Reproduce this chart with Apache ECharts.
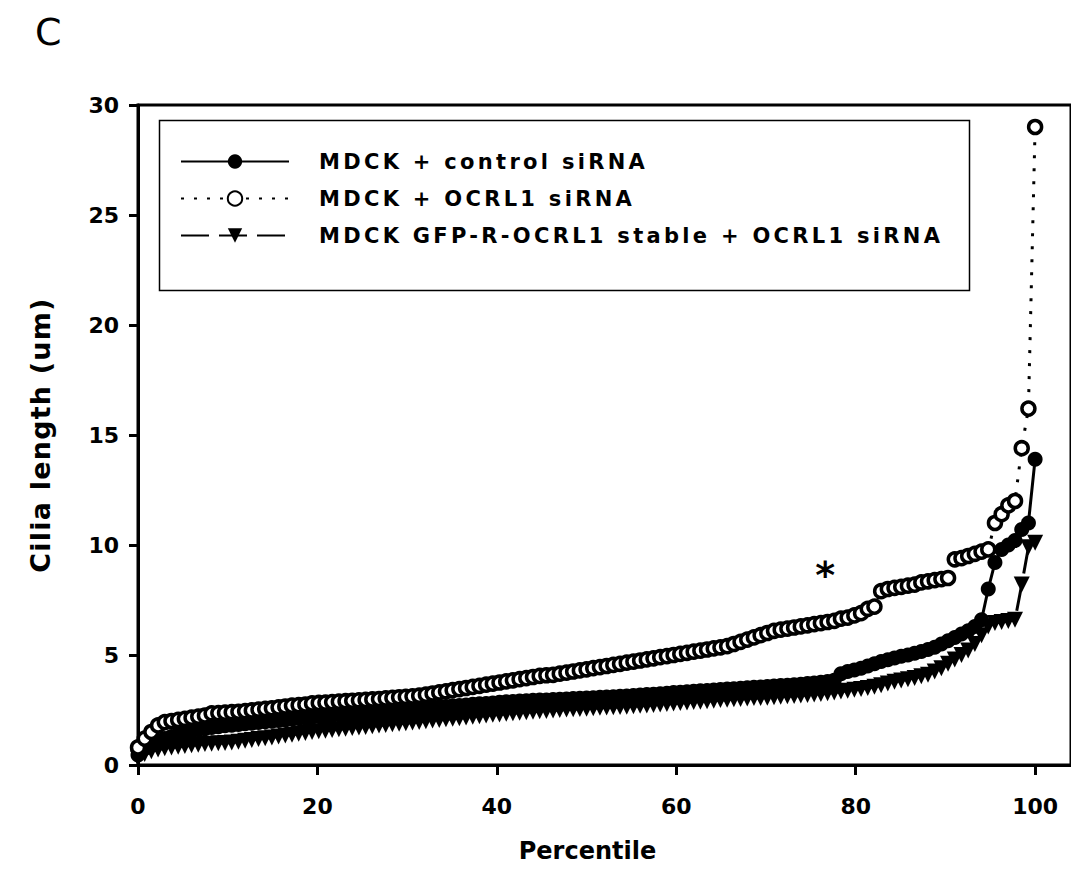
<!DOCTYPE html>
<html>
<head>
<meta charset="utf-8">
<script src="https://cdn.jsdelivr.net/npm/echarts@6/dist/echarts.min.js"></script>
<style>
  html, body { margin: 0; padding: 0; background: #fff; }
  #chart { width: 1071px; height: 895px; }
  /* wide tracking of the legend lettering, as in the original figure */
  #chart svg text[style*="21px"], #chart svg text[font-size="21"], #chart svg text[font-size="21px"] { letter-spacing: 3.3px; }
  #chart svg text[style*="27px"], #chart svg text[font-size="27"], #chart svg text[font-size="27px"] { letter-spacing: 1.2px; }
</style>
</head>
<body>
<div id="chart"></div>
<script>
// Cilia length (um) of every measured cilium, sorted ascending; x = percentile rank
const seriesNames = [
  'MDCK + control siRNA',
  'MDCK + OCRL1 siRNA',
  'MDCK GFP-R-OCRL1 stable + OCRL1 siRNA'
];
const controlValues = [
  0.45, 0.75, 0.95, 1.1, 1.2, 1.3, 1.4, 1.47, 1.55, 1.6,
  1.65, 1.7, 1.74, 1.78, 1.81, 1.84, 1.87, 1.9, 1.93, 1.96,
  1.99, 2.02, 2.05, 2.08, 2.11, 2.14, 2.17, 2.2, 2.22, 2.25,
  2.28, 2.3, 2.33, 2.36, 2.38, 2.4, 2.43, 2.45, 2.48, 2.5,
  2.52, 2.55, 2.57, 2.6, 2.62, 2.64, 2.66, 2.69, 2.71, 2.73,
  2.76, 2.78, 2.8, 2.82, 2.85, 2.87, 2.89, 2.91, 2.92, 2.94,
  2.95, 2.96, 2.98, 2.99, 3.0, 3.02, 3.03, 3.05, 3.06, 3.08,
  3.09, 3.1, 3.12, 3.14, 3.16, 3.18, 3.2, 3.22, 3.24, 3.26,
  3.29, 3.31, 3.33, 3.35, 3.37, 3.39, 3.41, 3.43, 3.45, 3.47,
  3.49, 3.51, 3.53, 3.55, 3.57, 3.59, 3.61, 3.63, 3.65, 3.67,
  3.7, 3.73, 3.76, 3.8, 3.85, 4.15, 4.25, 4.32, 4.4, 4.5,
  4.6, 4.7, 4.78, 4.86, 4.94, 5.0, 5.08, 5.16, 5.25, 5.35,
  5.5, 5.65, 5.8, 5.95, 6.1, 6.3, 6.6, 8.0, 9.2, 9.8,
  10.0, 10.2, 10.7, 11.0, 13.9
];
const ocrlValues = [
  0.8, 1.2, 1.5, 1.8, 1.95, 2.0, 2.05, 2.1, 2.15, 2.2,
  2.25, 2.35, 2.36, 2.38, 2.4, 2.42, 2.45, 2.48, 2.52, 2.55,
  2.58, 2.62, 2.66, 2.7, 2.72, 2.75, 2.8, 2.82, 2.84, 2.86,
  2.88, 2.9, 2.92, 2.94, 2.96, 2.98, 3.0, 3.03, 3.05, 3.08,
  3.1, 3.12, 3.15, 3.2, 3.25, 3.3, 3.35, 3.4, 3.45, 3.5,
  3.55, 3.6, 3.65, 3.7, 3.75, 3.8, 3.85, 3.9, 3.95, 4.0,
  4.05, 4.08, 4.1, 4.15, 4.2, 4.25, 4.3, 4.35, 4.4, 4.45,
  4.5, 4.55, 4.6, 4.65, 4.7, 4.75, 4.8, 4.85, 4.9, 4.95,
  5.0, 5.05, 5.1, 5.15, 5.2, 5.25, 5.3, 5.35, 5.4, 5.5,
  5.6, 5.7, 5.8, 5.9, 6.0, 6.1, 6.15, 6.2, 6.25, 6.3,
  6.35, 6.4, 6.45, 6.5, 6.55, 6.65, 6.7, 6.8, 6.9, 7.1,
  7.2, 7.9, 8.0, 8.05, 8.1, 8.15, 8.2, 8.3, 8.35, 8.4,
  8.45, 8.5, 9.35, 9.4, 9.5, 9.6, 9.7, 9.8, 11.0, 11.4,
  11.8, 12.0, 14.4, 16.2, 29.0
];
const gfpValues = [
  0.3, 0.5, 0.62, 0.7, 0.76, 0.8, 0.83, 0.86, 0.9, 0.92,
  0.95, 0.97, 0.99, 1.0, 1.02, 1.06, 1.1, 1.14, 1.18, 1.22,
  1.25, 1.3, 1.34, 1.38, 1.42, 1.46, 1.5, 1.53, 1.56, 1.59,
  1.62, 1.65, 1.68, 1.7, 1.73, 1.76, 1.79, 1.82, 1.85, 1.88,
  1.9, 1.93, 1.96, 1.99, 2.02, 2.05, 2.08, 2.1, 2.13, 2.16,
  2.19, 2.22, 2.25, 2.28, 2.3, 2.33, 2.35, 2.38, 2.4, 2.42,
  2.44, 2.46, 2.48, 2.5, 2.52, 2.53, 2.55, 2.56, 2.58, 2.6,
  2.61, 2.62, 2.64, 2.65, 2.67, 2.69, 2.71, 2.73, 2.75, 2.77,
  2.8, 2.82, 2.84, 2.86, 2.88, 2.9, 2.92, 2.95, 2.97, 2.99,
  3.0, 3.02, 3.04, 3.05, 3.06, 3.08, 3.1, 3.12, 3.14, 3.16,
  3.18, 3.2, 3.23, 3.26, 3.3, 3.34, 3.38, 3.42, 3.46, 3.5,
  3.56, 3.62, 3.7, 3.78, 3.84, 3.9, 3.96, 4.03, 4.1, 4.25,
  4.4, 4.6, 4.8, 5.0, 5.2, 5.5, 5.9, 6.3, 6.45, 6.5,
  6.55, 6.6, 8.2, 9.9, 10.1
];
const xTicks = { min: 0, max: 104, interval: 20 };
const yTicks = { min: 0, max: 30, interval: 5 };
const panelLabel = 'C';
const xTitle = 'Percentile';
const yTitle = 'Cilia length (um)';
const significance = { text: '*', pct: 76.6, value: 8.65 };

// percentile rank of each sorted value
function toPercentile(values) {
  const n = values.length;
  return values.map((v, i) => [i / (n - 1) * 100, v]);
}

const FONT = 'DejaVu Sans';
const chart = echarts.init(document.getElementById('chart'), null, { renderer: 'svg' });

const option = {
  animation: false,
  backgroundColor: '#ffffff',
  title: {
    text: panelLabel,
    left: 30, top: 8,
    textStyle: { fontFamily: FONT, fontSize: 38, fontWeight: 'normal', color: '#000' }
  },
  grid: {
    left: 138, top: 105, right: 0, bottom: 130,
    show: true, borderColor: '#000', borderWidth: 3, backgroundColor: 'transparent'
  },
  legend: {
    orient: 'vertical',
    left: 180, top: 151, padding: 0,
    itemWidth: 108, itemHeight: 18, itemGap: 16,
    data: seriesNames,
    textStyle: { fontFamily: FONT, fontSize: 21, fontWeight: 'bold', color: '#000', padding: [0, 0, 0, 25] },
    inactiveColor: '#000'
  },
  graphic: [{
    type: 'rect', left: 157, top: 118, z: 0,
    shape: { width: 810, height: 170 },
    style: { fill: 'none', stroke: '#000', lineWidth: 1.5 }
  }],
  xAxis: {
    type: 'value', min: xTicks.min, max: xTicks.max, interval: xTicks.interval,
    name: xTitle, nameLocation: 'middle', nameGap: 74,
    nameTextStyle: { fontFamily: FONT, fontSize: 24, fontWeight: 'bold', color: '#000', padding: [0, 34, 0, 0] },
    axisLine: { show: true, lineStyle: { color: '#000', width: 3 } },
    axisTick: { show: true, inside: false, length: 10, lineStyle: { color: '#000', width: 3 } },
    axisLabel: { fontFamily: FONT, fontSize: 22, fontWeight: 'bold', color: '#000', margin: 30, showMaxLabel: false },
    splitLine: { show: false }
  },
  yAxis: {
    type: 'value', min: yTicks.min, max: yTicks.max, interval: yTicks.interval,
    name: yTitle, nameLocation: 'middle', nameGap: 84, nameRotate: 90,
    nameTextStyle: { fontFamily: FONT, fontSize: 27, fontWeight: 'bold', color: '#000' },
    axisLine: { show: true, lineStyle: { color: '#000', width: 3 } },
    axisTick: { show: true, inside: false, length: 9, lineStyle: { color: '#000', width: 3 } },
    axisLabel: { fontFamily: FONT, fontSize: 22, fontWeight: 'bold', color: '#000', margin: 19 },
    splitLine: { show: false }
  },
  series: [
    {
      name: seriesNames[2], type: 'line', z: 2,
      data: toPercentile(gfpValues),
      symbol: 'triangle', symbolRotate: 180, symbolSize: 16,
      itemStyle: { color: '#000', borderColor: '#000', borderWidth: 0 },
      lineStyle: { color: '#000', width: 3, type: [28, 10] }
    },
    {
      name: seriesNames[0], type: 'line', z: 3,
      data: toPercentile(controlValues),
      symbol: 'circle', symbolSize: 15,
      itemStyle: { color: '#000', borderColor: '#000', borderWidth: 0 },
      lineStyle: { color: '#000', width: 3, type: 'solid' }
    },
    {
      name: seriesNames[1], type: 'line', z: 4,
      data: toPercentile(ocrlValues),
      symbol: 'circle', symbolSize: 13,
      itemStyle: { color: '#fff', borderColor: '#000', borderWidth: 3.5 },
      lineStyle: { color: '#000', width: 3, type: [3, 10] },
      markPoint: {
        silent: true,
        symbol: 'circle', symbolSize: 1,
        itemStyle: { color: 'transparent', borderWidth: 0 },
        label: { show: true, position: 'inside', formatter: significance.text,
                 fontFamily: FONT, fontSize: 38, fontWeight: 'bold', color: '#000' },
        data: [{ coord: [significance.pct, significance.value] }]
      }
    }
  ]
};
chart.setOption(option);
</script>
</body>
</html>
